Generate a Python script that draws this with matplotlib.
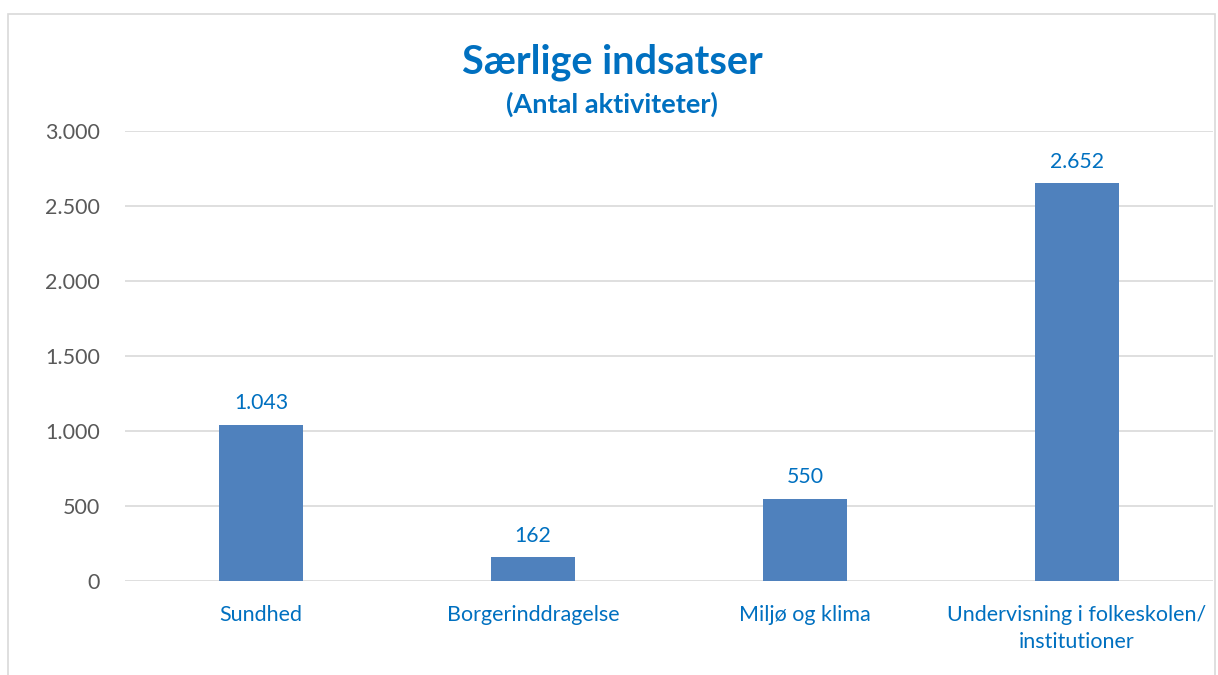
import matplotlib.pyplot as plt
from matplotlib.patches import Rectangle
from matplotlib.ticker import FuncFormatter

plt.rcParams['font.family'] = ['Lato', 'DejaVu Sans']

# Data
categories = ['Sundhed', 'Borgerinddragelse', 'Miljø og klima',
              'Undervisning i folkeskolen/\ninstitutioner']
values = [1043, 162, 550, 2652]
yticks = [0, 500, 1000, 1500, 2000, 2500, 3000]

bar_color = '#4F81BD'
text_blue = '#0070C0'
tick_gray = '#595959'
grid_gray = '#D9D9D9'

fig = plt.figure(figsize=(12.18, 6.75), dpi=100)
ax = fig.add_axes([125 / 1218, 94 / 675, 1088 / 1218, 450 / 675])

# Chart border (bottom edge runs off the image)
fig.patches.append(Rectangle((8 / 1218, -0.1), 1207 / 1218, 1.1 - 14 / 675,
                             transform=fig.transFigure, fill=False,
                             edgecolor=grid_gray, linewidth=1.2))

x = range(len(categories))
bars = ax.bar(x, values, width=0.31, color=bar_color, zorder=3)
labels = [f'{v:,}'.replace(',', '.') for v in values]
ax.bar_label(bars, labels=labels, padding=8, color=text_blue, fontsize=15.3)

ax.set_xlim(-0.5, len(categories) - 0.5)
ax.set_ylim(0, 3000)
ax.set_yticks(yticks)
ax.yaxis.set_major_formatter(FuncFormatter(lambda v, p: f'{int(v):,}'.replace(',', '.')))
ax.grid(axis='y', color=grid_gray, linewidth=1.2, zorder=0)
ax.set_xticks(list(x))
ax.set_xticklabels(categories, color=text_blue, fontsize=15.5, linespacing=1.45)
ax.tick_params(axis='x', length=0, pad=17)
ax.tick_params(axis='y', length=0, pad=18, labelcolor=tick_gray, labelsize=15.5)
for s in ax.spines.values():
    s.set_visible(False)

fig.text(612 / 1218, 1 - 62 / 675, 'Særlige indsatser', ha='center', va='center',
         fontsize=28.5, fontweight='bold', color=text_blue)
fig.text(612 / 1218, 1 - 104 / 675, '(Antal aktiviteter)', ha='center', va='center',
         fontsize=19.5, fontweight='bold', color=text_blue)

fig.savefig('out.png', dpi=100, facecolor='white')
